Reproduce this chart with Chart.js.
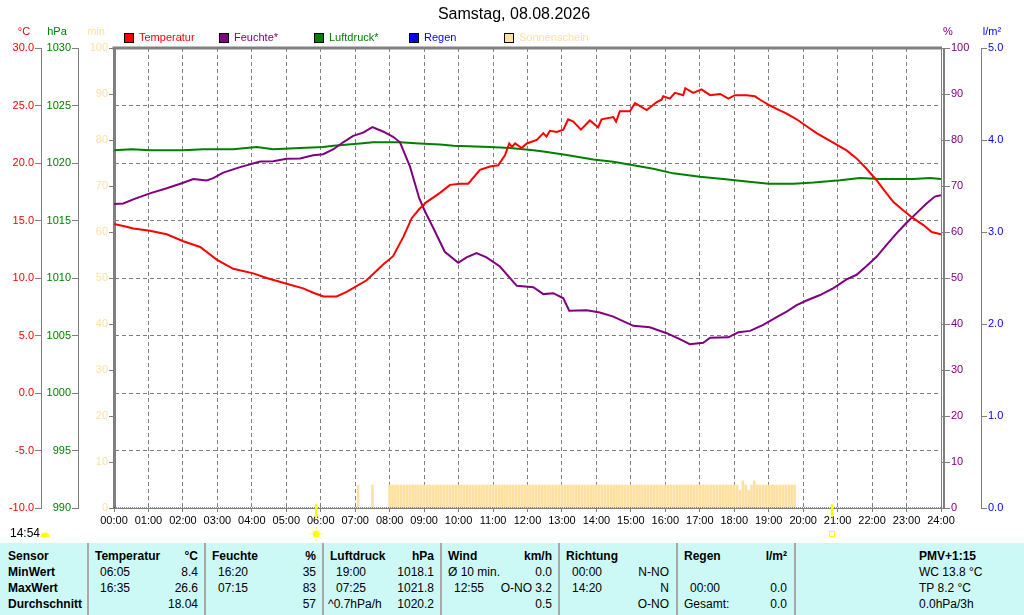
<!DOCTYPE html>
<html>
<head>
<meta charset="utf-8">
<script src="https://cdn.jsdelivr.net/npm/chart.js@4.4.1/dist/chart.umd.min.js"></script>
<style>
body { margin: 0; background: #fff; font-family: "Liberation Sans", Arial, sans-serif; }
#wrap { position: relative; width: 1024px; height: 615px; overflow: hidden; }
#chart { position: absolute; left: 0; top: 0; }
#table { position: absolute; left: 0; top: 543px; width: 1024px; height: 72px; background: #ccf9f5; font-size: 12px; color: #000; }
#table span { position: absolute; line-height: 16px; white-space: nowrap; }
#table .b { font-weight: bold; }
#table .sep { position: absolute; top: 0; width: 2px; height: 72px; background: #a9a9a9; }
</style>
</head>
<body>
<div id="wrap">
  <canvas id="chart" width="1024" height="543"></canvas>
  <div id="table"></div>
</div>
<script>
// time in hours (0..24)
const tempTime = [0.00, 0.30, 0.56, 1.04, 1.53, 2.01, 2.50, 2.98, 3.46, 4.04, 4.43, 5.01, 5.49, 5.80, 6.08, 6.46,
  6.75, 7.33, 7.82, 8.10, 8.40, 8.64, 8.86, 9.07, 9.46, 9.75, 10.04, 10.28, 10.62, 10.91, 11.15, 11.35, 11.47,
  11.55, 11.64, 11.83, 11.98, 12.27, 12.46, 12.55, 12.65, 12.85, 13.04, 13.18, 13.33, 13.55, 13.81, 14.05, 14.15,
  14.49, 14.57, 14.68, 14.97, 15.12, 15.46, 15.75, 15.89, 15.94, 16.13, 16.28, 16.52, 16.58, 16.81, 17.05, 17.30,
  17.59, 17.83, 18.02, 18.36, 18.60, 18.75, 19.04, 19.23, 19.52, 19.81, 20.10, 20.39, 20.68, 20.97, 21.26, 21.55,
  21.84, 22.13, 22.33, 22.62, 22.90, 23.19, 23.49, 23.73, 24.00];
const temp = [14.7, 14.5, 14.3, 14.1, 13.8, 13.2, 12.7, 11.6, 10.8, 10.4, 10.0, 9.5, 9.1, 8.7, 8.4, 8.4,
  8.8, 9.8, 11.2, 11.9, 13.6, 15.2, 16.0, 16.6, 17.4, 18.1, 18.2, 18.2, 19.4, 19.7, 19.8, 20.7, 21.7,
  21.4, 21.7, 21.3, 21.7, 22.0, 22.6, 22.3, 22.8, 22.7, 22.9, 23.8, 23.6, 22.9, 23.7, 23.1, 23.8,
  24.0, 23.6, 24.5, 24.5, 25.2, 24.6, 25.3, 25.5, 25.8, 25.6, 26.1, 25.9, 26.5, 26.1, 26.4, 25.9,
  26.0, 25.6, 25.9, 25.9, 25.8, 25.5, 25.0, 24.7, 24.3, 23.8, 23.2, 22.6, 22.1, 21.6, 21.1, 20.4,
  19.5, 18.5, 17.7, 16.6, 15.9, 15.2, 14.6, 14.0, 13.8];

const humTime = [0.00, 0.27, 0.56, 1.04, 1.53, 2.01, 2.30, 2.69, 2.88, 3.17, 3.66, 4.24, 4.62, 5.01, 5.40, 5.78,
  6.07, 6.37, 6.65, 6.94, 7.23, 7.50, 7.82, 8.10, 8.30, 8.59, 8.86, 9.03, 9.27, 9.60, 9.99, 10.23, 10.52, 10.81,
  11.20, 11.69, 12.17, 12.46, 12.75, 13.04, 13.21, 13.72, 14.10, 14.49, 15.07, 15.55, 16.04, 16.42, 16.71, 17.10,
  17.30, 17.83, 18.12, 18.46, 18.84, 19.23, 19.52, 19.81, 20.10, 20.49, 20.88, 21.26, 21.55, 21.84, 22.13, 22.42,
  22.71, 23.00, 23.29, 23.58, 23.82, 24.00];
const hum = [66.1, 66.2, 67.1, 68.4, 69.5, 70.7, 71.5, 71.2, 71.7, 72.9, 74.1, 75.3, 75.4, 75.9, 76.0, 76.7,
  76.9, 78.0, 79.5, 80.9, 81.6, 82.8, 81.8, 80.7, 79.5, 74.2, 67.3, 64.4, 60.8, 55.7, 53.3, 54.5, 55.4, 54.5,
  52.5, 48.3, 48.0, 46.5, 46.7, 45.6, 42.9, 43.0, 42.5, 41.6, 39.6, 39.3, 38.0, 36.7, 35.6, 35.9,
  37.0, 37.1, 38.2, 38.5, 39.8, 41.5, 42.7, 44.1, 45.1, 46.3, 47.8, 49.7, 50.7, 52.6, 54.6, 57.2,
  59.7, 62.0, 64.1, 66.2, 67.7, 68.0];

const pressTime = [0.00, 0.51, 1.04, 2.01, 2.59, 3.46, 4.14, 4.62, 5.40, 6.07, 6.37, 7.14, 7.52, 8.30, 8.86,
  9.46, 9.85, 10.91, 11.49, 12.17, 12.46, 13.14, 13.52, 13.91, 14.49, 15.07, 15.65, 16.23, 17.00, 17.68, 18.36,
  19.00, 19.72, 20.30, 21.07, 21.65, 22.23, 23.19, 23.68, 24.00];
const press = [1021.1, 1021.2, 1021.1, 1021.1, 1021.2, 1021.2, 1021.4, 1021.2, 1021.3, 1021.4, 1021.5, 1021.7,
  1021.8, 1021.8, 1021.7, 1021.6, 1021.5, 1021.4, 1021.3, 1021.1, 1021.0, 1020.7, 1020.5, 1020.3, 1020.1,
  1019.8, 1019.5, 1019.1, 1018.8, 1018.6, 1018.4, 1018.2, 1018.2, 1018.3, 1018.5, 1018.7, 1018.6, 1018.6,
  1018.7, 1018.6];

const rainTime = [0, 24];
const rain = [0.0, 0.0];

// sunshine minutes per 5-minute slot, first slot 07:00
const sunStart = 7;
const sunshine = [
  0, 5, 0, 0, 0, 0, 5, 0, 0, 0, 0, 0,            // 07
  5, 5, 5, 5, 5, 5, 5, 5, 5, 5, 5, 5,            // 08
  5, 5, 5, 5, 5, 5, 5, 5, 5, 5, 5, 5,            // 09
  5, 5, 5, 5, 5, 5, 5, 5, 5, 5, 5, 5,            // 10
  5, 5, 5, 5, 5, 5, 5, 5, 5, 5, 5, 5,            // 11
  5, 5, 5, 5, 5, 5, 5, 5, 5, 5, 5, 5,            // 12
  5, 5, 5, 5, 5, 5, 5, 5, 5, 5, 5, 5,            // 13
  5, 5, 5, 5, 5, 5, 5, 5, 5, 5, 5, 5,            // 14
  5, 5, 5, 5, 5, 5, 5, 5, 5, 5, 5, 5,            // 15
  5, 5, 5, 5, 5, 5, 5, 5, 5, 5, 5, 5,            // 16
  5, 5, 5, 5, 5, 5, 5, 5, 5, 5, 5, 5,            // 17
  5, 5, 3.8, 5.9, 5, 3.8, 5, 5.9, 5, 5, 5, 5,    // 18
  5, 5, 5, 5, 5, 5, 5, 5, 5, 5                   // 19
];

const sunrise = 5.87;   // 05:52
const sunset = 20.84;   // 20:50
const dayTitle = 'Samstag, 08.08.2026';
const nowLabel = '14:54';

const seriesNames = ['Temperatur', 'Feuchte*', 'Luftdruck*', 'Regen', 'Sonnenschein'];
const seriesColors = ['#ff0000', '#800080', '#008000', '#0000ff', '#ffe0a0'];
const axisUnits = ['°C', 'hPa', 'min', '%', 'l/m²'];

// table below the chart: [text, x, row, align, bold]
const tableCells = [
  ['Sensor', 8, 0, 'l', 1], ['MinWert', 8, 1, 'l', 1], ['MaxWert', 8, 2, 'l', 1], ['Durchschnitt', 8, 3, 'l', 1],
  ['Temperatur', 95, 0, 'l', 1], ['°C', 198, 0, 'r', 1],
  ['06:05', 100, 1, 'l'], ['8.4', 198, 1, 'r'], ['16:35', 100, 2, 'l'], ['26.6', 198, 2, 'r'], ['18.04', 198, 3, 'r'],
  ['Feuchte', 212, 0, 'l', 1], ['%', 316, 0, 'r', 1],
  ['16:20', 218, 1, 'l'], ['35', 316, 1, 'r'], ['07:15', 218, 2, 'l'], ['83', 316, 2, 'r'], ['57', 316, 3, 'r'],
  ['Luftdruck', 330, 0, 'l', 1], ['hPa', 434, 0, 'r', 1],
  ['19:00', 336, 1, 'l'], ['1018.1', 434, 1, 'r'], ['07:25', 336, 2, 'l'], ['1021.8', 434, 2, 'r'],
  ['^0.7hPa/h', 328, 3, 'l'], ['1020.2', 434, 3, 'r'],
  ['Wind', 448, 0, 'l', 1], ['km/h', 552, 0, 'r', 1],
  ['Ø 10 min.', 448, 1, 'l'], ['0.0', 552, 1, 'r'], ['12:55', 454, 2, 'l'], ['O-NO 3.2', 552, 2, 'r'], ['0.5', 552, 3, 'r'],
  ['Richtung', 566, 0, 'l', 1],
  ['00:00', 572, 1, 'l'], ['N-NO', 669, 1, 'r'], ['14:20', 572, 2, 'l'], ['N', 669, 2, 'r'], ['O-NO', 669, 3, 'r'],
  ['Regen', 684, 0, 'l', 1], ['l/m²', 787, 0, 'r', 1],
  ['00:00', 690, 2, 'l'], ['0.0', 787, 2, 'r'], ['Gesamt:', 684, 3, 'l'], ['0.0', 787, 3, 'r'],
  ['PMV+1:15', 919, 0, 'l', 1], ['WC 13.8 °C', 919, 1, 'l'], ['TP 8.2 °C', 919, 2, 'l'], ['0.0hPa/3h', 919, 3, 'l']
];
const tableSeps = [88, 205, 323, 441, 559, 677, 795];

const GRID = '#808080';
const FONT = '"Liberation Sans", Arial, sans-serif';

const buildTable = () => {
  const table = document.getElementById('table');
  tableSeps.forEach(x => {
    const d = document.createElement('div');
    d.className = 'sep';
    d.style.left = (x - 1) + 'px';
    table.appendChild(d);
  });
  tableCells.forEach(([text, x, row, align, bold]) => {
    const s = document.createElement('span');
    s.textContent = text;
    s.style.top = (5 + row * 16) + 'px';
    if (align === 'r') s.style.right = (1024 - x) + 'px';
    else s.style.left = x + 'px';
    if (bold) s.className = 'b';
    table.appendChild(s);
  });
};

const toPoints = (times, values) => times.map((t, i) => ({ x: t, y: values[i] }));

const yAxis = (pos, weight, min, max, step, color, width, fmt, extra) => Object.assign({
  position: pos, weight: weight, min: min, max: max,
  ticks: { stepSize: step, color: color, font: { family: FONT, size: 11 }, padding: 1, callback: fmt },
  grid: { drawOnChartArea: false, tickLength: 6, tickColor: GRID, color: GRID },
  border: { color: GRID, width: 1 },
  afterFit: s => { s.width = width; }
}, extra || {});

// extra drawing: title, legend, units, frame, sunrise/sunset
const decorations = {
  id: 'decorations',
  afterDraw(chart) {
    const ctx = chart.ctx;
    const area = chart.chartArea;
    const x = chart.scales.x;
    ctx.save();

    // frame
    ctx.strokeStyle = GRID;
    ctx.lineWidth = 3;
    ctx.beginPath();
    ctx.moveTo(area.left - 1.5, area.top);
    ctx.lineTo(area.right + 1, area.top);
    ctx.stroke();
    ctx.lineWidth = 2;
    ctx.beginPath();
    ctx.moveTo(area.right + 3, area.top);
    ctx.lineTo(area.right + 3, area.bottom);
    ctx.stroke();

    // title
    ctx.fillStyle = '#000';
    ctx.font = '16px ' + FONT;
    ctx.textAlign = 'center';
    ctx.textBaseline = 'middle';
    ctx.fillText(dayTitle, 514, 15);

    // legend
    ctx.font = '11px ' + FONT;
    ctx.textAlign = 'left';
    seriesNames.forEach((name, i) => {
      const lx = 124 + i * 95;
      ctx.fillStyle = seriesColors[i];
      ctx.fillRect(lx, 33, 10, 10);
      ctx.strokeStyle = '#000';
      ctx.lineWidth = 1;
      ctx.strokeRect(lx + 0.5, 33.5, 9, 9);
      ctx.fillStyle = seriesColors[i];
      ctx.fillText(name, lx + 15, 38);
    });

    // axis units
    ctx.textAlign = 'center';
    const unitPos = [[24, seriesColors[0]], [57, seriesColors[2]], [96, seriesColors[4]], [948, seriesColors[1]], [992, seriesColors[3]]];
    axisUnits.forEach((u, i) => {
      ctx.fillStyle = unitPos[i][1];
      ctx.fillText(u, unitPos[i][0], 32);
    });

    // sunrise / sunset markers
    const sx = x.getPixelForValue(sunrise);
    const ex = x.getPixelForValue(sunset);
    ctx.strokeStyle = '#ffff00';
    ctx.lineWidth = 2.5;
    [sx, ex].forEach(px => {
      ctx.beginPath();
      ctx.moveTo(px, area.bottom - 4);
      ctx.lineTo(px, area.bottom + 9);
      ctx.stroke();
    });
    ctx.fillStyle = '#ffff00';
    ctx.beginPath();
    ctx.arc(sx, 534, 3.5, 0, Math.PI * 2);
    ctx.fill();
    ctx.strokeStyle = '#fff080';
    ctx.lineWidth = 1;
    for (let k = 0; k < 8; k++) {
      const a = k * Math.PI / 4;
      ctx.beginPath();
      ctx.moveTo(sx + Math.cos(a) * 4.5, 534 + Math.sin(a) * 4.5);
      ctx.lineTo(sx + Math.cos(a) * 7, 534 + Math.sin(a) * 7);
      ctx.stroke();
    }
    ctx.strokeStyle = '#ffff00';
    ctx.strokeRect(ex - 2.5, 531.5, 5, 5);

    // current time
    ctx.fillStyle = '#000';
    ctx.textAlign = 'left';
    ctx.font = '12px ' + FONT;
    ctx.fillText(nowLabel, 10, 534);
    ctx.fillStyle = '#ffff00';
    ctx.beginPath();
    ctx.arc(45, 537, 4.5, Math.PI, 0);
    ctx.fill();

    ctx.restore();
  }
};

const init = () => {
  buildTable();

  new Chart(document.getElementById('chart'), {
    type: 'line',
    data: {
      datasets: [
        {
          label: seriesNames[0], data: toPoints(tempTime, temp), yAxisID: 'yT',
          borderColor: seriesColors[0], borderWidth: 2, pointRadius: 0, order: 1
        },
        {
          label: seriesNames[1], data: toPoints(humTime, hum), yAxisID: 'yH',
          borderColor: seriesColors[1], borderWidth: 2, pointRadius: 0, order: 2
        },
        {
          label: seriesNames[2], data: toPoints(pressTime, press), yAxisID: 'yP',
          borderColor: seriesColors[2], borderWidth: 2, pointRadius: 0, order: 3
        },
        {
          label: seriesNames[3], data: toPoints(rainTime, rain), yAxisID: 'yR',
          borderColor: seriesColors[3], borderWidth: 1, borderDash: [1, 1], pointRadius: 0, order: 0
        },
        {
          type: 'bar', label: seriesNames[4],
          data: sunshine.map((v, i) => ({ x: sunStart + i / 12, y: v })), yAxisID: 'yS',
          backgroundColor: seriesColors[4], borderWidth: 0, barThickness: 2, order: 10
        }
      ]
    },
    options: {
      responsive: false,
      animation: false,
      layout: { padding: { top: 48, left: 0, right: 0, bottom: 0 } },
      plugins: { legend: { display: false }, tooltip: { enabled: false } },
      scales: {
        x: {
          type: 'linear', min: 0, max: 24, offset: false,
          ticks: {
            stepSize: 1, autoSkip: false, maxRotation: 0, color: '#000', padding: 2,
            font: { family: FONT, size: 11 },
            callback: v => String(v).padStart(2, '0') + ':00'
          },
          grid: { color: GRID, tickLength: 4, tickColor: GRID, offset: false },
          border: { color: GRID, width: 1, dash: [4, 3] },
          afterFit: s => { s.height = 35; }
        },
        yT: yAxis('left', 2, -10, 30, 5, seriesColors[0], 41, v => v.toFixed(1), {
          grid: { drawOnChartArea: true, tickLength: 6, tickColor: GRID, color: GRID },
          border: { color: GRID, width: 1, dash: [4, 3] }
        }),
        yP: yAxis('left', 1, 990, 1030, 5, seriesColors[2], 37, v => String(v)),
        yS: yAxis('left', 0, 0, 100, 10, seriesColors[4], 36, v => String(v), {
          grid: { drawOnChartArea: false, tickLength: 5, tickColor: GRID, color: GRID },
          border: { color: GRID, width: 3 }
        }),
        yH: yAxis('right', 0, 0, 100, 10, seriesColors[1], 40, v => String(v), {
          grid: { drawOnChartArea: false, tickLength: 9, tickColor: GRID, color: GRID }
        }),
        yR: yAxis('right', 1, 0, 5, 1, seriesColors[3], 43, v => v.toFixed(1))
      }
    },
    plugins: [decorations]
  });
};

document.addEventListener('DOMContentLoaded', init);
</script>
</body>
</html>
